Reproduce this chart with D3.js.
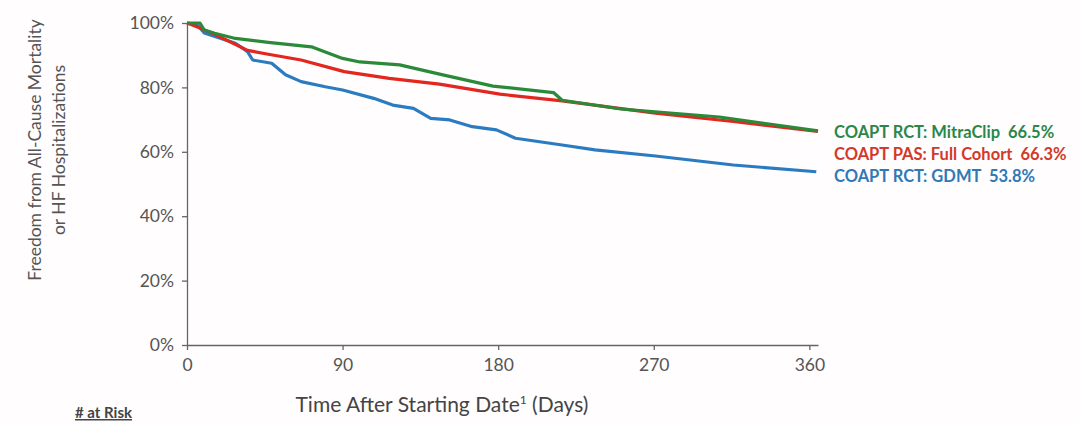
<!DOCTYPE html>
<html>
<head>
<meta charset="utf-8">
<script src="https://cdn.jsdelivr.net/npm/d3@7"></script>
<style>
  body { margin: 0; background: #fffdfe; }
  svg { display: block; font-family: Lato, "Open Sans", sans-serif; }
</style>
</head>
<body>
<svg id="chart"></svg>
<script>
const width = 1080;
const height = 424;

// Kaplan-Meier estimates: [day, % event free]
const mitraClip = [[0, 100], [7.5, 100], [10, 97.8], [16, 96.8], [28, 95.2], [47, 94], [72, 92.6],
    [80, 91], [90, 89], [100, 87.9], [123, 87], [148, 83.9], [177, 80.4], [212, 78.4],
    [217, 76], [251, 73.3], [308, 70.8], [365, 66.5]];
const fullCohort = [[0, 100], [5, 99], [16, 96.5], [35, 91.5], [47, 90.3], [66, 88.5], [91, 84.9],
    [117, 82.8], [146, 81], [181, 77.9], [217, 75.8], [271, 72], [316, 69.4], [365, 66.3]];
const gdmt = [[0, 100], [6, 99.4], [10, 96.9], [28, 93.7], [35, 91.1], [38, 88.5], [49, 87.5],
    [57, 83.9], [66, 81.8], [80, 80.2], [90, 79.2], [108, 76.6], [119, 74.5], [131, 73.5],
    [141, 70.4], [152, 69.9], [165, 67.8], [179, 66.8], [190, 64.2], [217, 62.1], [236, 60.6],
    [271, 58.7], [316, 55.9], [364, 53.8]];

const seriesNames = ["COAPT RCT: MitraClip  66.5%", "COAPT PAS: Full Cohort  66.3%", "COAPT RCT: GDMT  53.8%"];
const lineColors = ["#2b8a3a", "#e3261e", "#2b7bc2"];
const labelColors = ["#2a8748", "#d1392b", "#2e79b6"];

const xTicks = [0, 90, 180, 270, 360];
const yTicks = [0, 20, 40, 60, 80, 100];

const svg = d3.select("#chart")
    .attr("width", width)
    .attr("height", height);

const x = d3.scaleLinear().domain([0, 365]).range([187, 818]);
const y = d3.scaleLinear().domain([0, 100]).range([345, 23]);

// axes
const xAxis = svg.append("g")
    .attr("transform", `translate(0,${y(0)})`)
    .call(d3.axisBottom(x).tickValues(xTicks).tickSize(5).tickPadding(9).tickSizeOuter(0));
const yAxis = svg.append("g")
    .attr("transform", `translate(${x(0)},0)`)
    .call(d3.axisLeft(y).tickValues(yTicks).tickFormat(d => d + "%").tickSize(5).tickPadding(8).tickSizeOuter(0));

[xAxis, yAxis].forEach(g => {
    g.select(".domain").attr("stroke", "#666").attr("stroke-width", 1.3);
    g.selectAll(".tick line").attr("stroke", "#666").attr("stroke-width", 1.3);
    g.selectAll(".tick text").attr("fill", "#555").attr("font-size", 17.5).attr("font-family", "Lato, sans-serif");
});

// curves
const line = d3.line()
    .x(d => x(d[0]))
    .y(d => y(d[1]));

[gdmt, fullCohort, mitraClip].forEach((data, i) => {
    const idx = [2, 1, 0][i];
    svg.append("path")
        .datum(data)
        .attr("d", line)
        .attr("fill", "none")
        .attr("stroke", lineColors[idx])
        .attr("stroke-width", 3.2)
        .attr("stroke-linejoin", "round");
});

// end labels
const labelY = [138, 160, 182];
svg.selectAll(".series-label")
    .data(seriesNames)
    .enter().append("text")
    .attr("class", "series-label")
    .attr("x", 834)
    .attr("y", (d, i) => labelY[i])
    .attr("fill", (d, i) => labelColors[i])
    .attr("font-size", 16.5)
    .attr("font-weight", "bold")
    .attr("xml:space", "preserve")
    .style("white-space", "pre")
    .text(d => d);

// axis titles
const yTitle = svg.append("text")
    .attr("transform", "translate(0,150) rotate(-90)")
    .attr("text-anchor", "middle")
    .attr("fill", "#555")
    .attr("font-size", 17.5);
yTitle.append("tspan").attr("x", 0).attr("y", 41).text("Freedom from All-Cause Mortality");
yTitle.append("tspan").attr("x", 0).attr("y", 65).text("or HF Hospitalizations");

const xTitle = svg.append("text")
    .attr("x", 442)
    .attr("y", 412)
    .attr("text-anchor", "middle")
    .attr("fill", "#444")
    .attr("font-size", 21);
xTitle.append("tspan").text("Time After Starting Date");
xTitle.append("tspan").attr("font-size", 12).attr("dy", -8).text("1");
xTitle.append("tspan").attr("dy", 8).text(" (Days)");

svg.append("text")
    .attr("x", 75)
    .attr("y", 418)
    .attr("fill", "#444")
    .attr("font-size", 15)
    .attr("font-weight", "bold")
    .attr("text-decoration", "underline")
    .text("# at Risk");
</script>
</body>
</html>
